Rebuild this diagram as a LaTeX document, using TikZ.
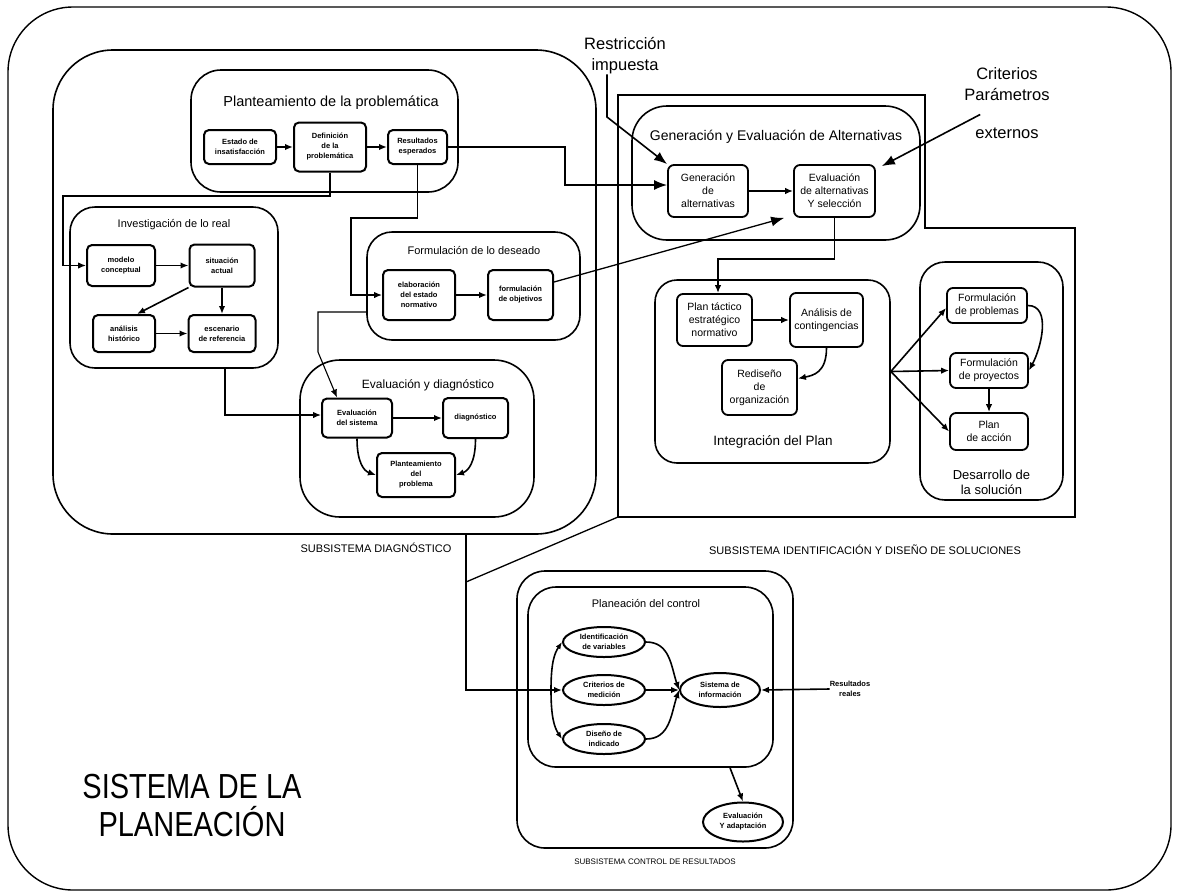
\documentclass[tikz,border=0pt]{standalone}
\usepackage{fontspec}
\setmainfont{Liberation Sans}
\usetikzlibrary{arrows.meta,shapes.geometric}
\begin{document}
\begin{tikzpicture}[x=1pt,y=-1pt,
  cont/.style={draw, line width=1.6pt, inner sep=0pt, rounded corners=#1},
  sbox/.style={draw, line width=2pt, rounded corners=5pt, align=center, inner sep=1pt,
               font=\fontsize{7.5}{10}\selectfont\bfseries},
  mbox/.style={draw, line width=1.8pt, rounded corners=6pt, align=center, inner sep=1pt,
               font=\fontsize{10.5}{13}\selectfont},
  nval/.style={draw, ellipse, line width=2pt, inner sep=0pt, align=center,
               font=\fontsize{7.5}{10}\selectfont\bfseries},
  ttl/.style={inner sep=0pt, align=center},
  lnk/.style={line width=1.6pt},
  arr/.style={lnk, -{Latex[length=8pt,width=6.5pt]}},
  bigarr/.style={lnk, -{Latex[length=13pt,width=10pt]}},
]
\useasboundingbox (0,0) rectangle (1177,895);
\fill[white] (0,0) rectangle (1177,895);

% ---------- whole system ----------
\node[cont=65pt, line width=1.4pt, minimum width=1163pt, minimum height=883pt] (sistema) at (589.5,448.5) {};
\node[ttl, font=\fontsize{29}{38}\selectfont] (sistemaT) at (192,806)
  {\scalebox{1}[1.2]{SISTEMA DE LA}\\\scalebox{1}[1.2]{PLANEACIÓN}};

% ---------- diagnostic subsystem ----------
\node[cont=60pt, minimum width=543pt, minimum height=484pt] (diag) at (324.5,292) {};
\node[ttl, font=\fontsize{11}{13}\selectfont] (diagT) at (376,548) {SUBSISTEMA DIAGNÓSTICO};

% problem statement
\node[cont=30pt, minimum width=267pt, minimum height=122pt] (plant) at (324.5,131) {};
\node[ttl, font=\fontsize{14.5}{17}\selectfont] (plantT) at (331,103) {Planteamiento de la problemática};
\node[sbox, minimum width=72pt, minimum height=34pt] (estado) at (240,147) {Estado de\\insatisfacción};
\node[sbox, minimum width=72pt, minimum height=49pt] (definicion) at (330,147) {Definición\\de la\\problemática};
\node[sbox, minimum width=59pt, minimum height=34pt] (resultados) at (417.5,147) {Resultados\\esperados};
\draw[arr] (estado.east) -- (definicion.west);
\draw[arr] (definicion.east) -- (resultados.west);

% research of the real situation
\node[cont=25pt, minimum width=208pt, minimum height=161pt] (inv) at (174,287.5) {};
\node[ttl, font=\fontsize{11}{13}\selectfont] (invT) at (174,225) {Investigación de lo real};
\node[sbox, minimum width=68pt, minimum height=41pt] (modelo) at (121,265.5) {modelo\\conceptual};
\node[sbox, minimum width=65pt, minimum height=42pt] (situacion) at (222,265.5) {situación\\actual};
\node[sbox, minimum width=62pt, minimum height=37pt] (analisis) at (124,333.5) {análisis\\histórico};
\node[sbox, minimum width=67pt, minimum height=37pt] (escenario) at (222,333.5) {escenario\\de referencia};
\draw[arr] (modelo.east) -- (situacion.west);
\draw[arr] (situacion.south west) -- ([xshift=13pt]analisis.north);
\draw[arr] (situacion.south) -- (escenario.north);
\draw[arr] (analisis.east) -- (escenario.west);

% desired state
\node[cont=25pt, minimum width=213pt, minimum height=108pt] (form) at (473.5,286) {};
\node[ttl, font=\fontsize{11}{13}\selectfont] (formT) at (474,250) {Formulación de lo deseado};
\node[sbox, minimum width=72pt, minimum height=50pt] (elaboracion) at (419,295) {elaboración\\del estado\\normativo};
\node[sbox, minimum width=65pt, minimum height=50pt] (objetivos) at (520.5,295) {formulación\\de objetivos};
\draw[arr] (elaboracion.east) -- (objetivos.west);

% evaluation and diagnosis
\node[cont=40pt, minimum width=234pt, minimum height=157pt] (evd) at (417,438.5) {};
\node[ttl, font=\fontsize{12}{14}\selectfont] (evdT) at (428,385) {Evaluación y diagnóstico};
\node[sbox, minimum width=70pt, minimum height=39pt] (evalsis) at (357,418) {Evaluación\\del sistema};
\node[sbox, minimum width=65pt, minimum height=40pt] (diagnostico) at (475.5,418) {diagnóstico};
\node[sbox, minimum width=78pt, minimum height=44pt] (planteam) at (416,475) {Planteamiento\\del\\problema};
\draw[arr] (evalsis.east) -- (diagnostico.west);
\draw[arr] (evalsis.south) .. controls +(0,24) and +(-12,-4) .. (planteam.west);
\draw[arr] (diagnostico.south) .. controls +(0,24) and +(12,-4) .. (planteam.east);

% links inside the diagnostic subsystem
\draw[arr, line width=1.3pt] (definicion.south) -- (330,196) -- (63,196) |- (modelo.west);
\draw[arr, line width=1.3pt] (resultados.south) -- (417.5,218) -- (351,218) |- (elaboracion.west);
\draw[arr, line width=1.3pt] ([xshift=51pt]inv.south) |- ([yshift=3pt]evalsis.west);
\draw[arr, line width=1.1pt] ([yshift=-26pt]form.west) -- (318,312) -- (318,352) -- ([xshift=-20pt]evalsis.north);

% ---------- identification and design subsystem ----------
\coordinate (idA) at (618,95);
\coordinate (idB) at (925,95);
\coordinate (idC) at (925,228);
\coordinate (idD) at (1075,228);
\coordinate (idE) at (1075,517);
\coordinate (idcorner) at (618,517);
\draw[line width=1.8pt] (idA) -- (idB) -- (idC) -- (idD) -- (idE) -- (idcorner) -- cycle;
\node[ttl, font=\fontsize{11}{13}\selectfont] (idT) at (865,550) {SUBSISTEMA IDENTIFICACIÓN Y DISEÑO DE SOLUCIONES};

% generation and evaluation of alternatives
\node[cont=35pt, minimum width=288pt, minimum height=134pt] (gen) at (776,173) {};
\node[ttl, font=\fontsize{14}{16}\selectfont] (genT) at (776,137) {Generación y Evaluación de Alternativas};
\node[mbox, minimum width=80pt, minimum height=52pt] (genalt) at (708,191) {Generación\\de\\alternativas};
\node[mbox, minimum width=81pt, minimum height=52pt] (evalalt) at (834.5,191) {Evaluación\\de alternativas\\Y selección};
\draw[arr] (genalt.east) -- (evalalt.west);

\node[ttl, font=\fontsize{16.5}{21}\selectfont] (restr) at (625,56) {Restricción\\impuesta};
\node[ttl, font=\fontsize{16.5}{21}\selectfont] (crit) at (1007,103.5) {Criterios\\Parámetros\\[17pt]externos};
\draw[bigarr] ([xshift=-18pt]restr.south) -- (607,117) -- (genalt.north west);
\draw[bigarr] ([xshift=16pt,yshift=-11pt]crit.west) -- ([xshift=6pt,yshift=-2pt]evalalt.north east);

% plan integration
\node[cont=22pt, minimum width=235pt, minimum height=183pt] (integ) at (772.5,371.5) {};
\node[ttl, font=\fontsize{13.5}{16}\selectfont] (integT) at (773,442) {Integración del Plan};
\node[mbox, minimum width=75pt, minimum height=52pt] (plantac) at (714.5,320) {Plan táctico\\estratégico\\normativo};
\node[mbox, minimum width=73pt, minimum height=54pt] (contingencias) at (826.5,320) {Análisis de\\contingencias};
\node[mbox, minimum width=75pt, minimum height=55pt] (rediseno) at (759.5,387.5) {Rediseño\\de\\organización};
\draw[arr] (plantac.east) -- (contingencias.west);
\draw[arr] (contingencias.south) .. controls +(0,25) and +(15,-3) .. ([yshift=9pt]rediseno.east);

% development of the solution
\node[cont=25pt, minimum width=143pt, minimum height=238pt] (desa) at (991.5,381) {};
\node[ttl, font=\fontsize{13}{15}\selectfont] (desaT) at (991.5,482) {Desarrollo de\\la solución};
\node[mbox, minimum width=80pt, minimum height=35pt] (formprob) at (987,305.5) {Formulación\\de problemas};
\node[mbox, minimum width=78pt, minimum height=35pt] (formproy) at (989,370.5) {Formulación\\de proyectos};
\node[mbox, minimum width=78pt, minimum height=37pt] (planaccion) at (989,431.5) {Plan\\de acción};
\draw[arr] (formprob.east) .. controls +(24,0) and +(12,-22) .. (formproy.east);
\draw[arr] (formproy.south) -- (planaccion.north);

% links inside the identification subsystem
\draw[bigarr] (resultados.east) -- (565,147) |- ([yshift=6pt]genalt.west);
\draw[bigarr, line width=1.3pt] ([yshift=13pt]objetivos.east) -- ([xshift=-9pt]evalalt.south west);
\draw[arr] (evalalt.south) -- ++(0,41) -| ([xshift=3.5pt]plantac.north);
\draw[arr] (integ.east) -- ([yshift=-2.5pt]formprob.west);
\draw[arr] (integ.east) -- (formproy.west);
\draw[arr] (integ.east) -- (planaccion.west);

% ---------- results control subsystem ----------
\node[cont=28pt, minimum width=276pt, minimum height=277pt] (ctrl) at (655,709.5) {};
\node[ttl, font=\fontsize{8}{10}\selectfont] (ctrlT) at (655,862) {SUBSISTEMA CONTROL DE RESULTADOS};
\node[cont=28pt, minimum width=245pt, minimum height=180pt] (ctrlin) at (650.5,677) {};
\node[ttl, font=\fontsize{11}{13}\selectfont] (ctrlinT) at (646,603) {Planeación del control};
\node[nval, minimum width=82pt, minimum height=30pt] (ident) at (604,642) {Identificación\\de variables};
\node[nval, minimum width=82pt, minimum height=30pt] (critmed) at (604,690) {Criterios de\\medición};
\node[nval, minimum width=82pt, minimum height=30pt] (diseno) at (604,739) {Diseño de\\indicado};
\node[nval, minimum width=80pt, minimum height=34pt] (sisinfo) at (720,690) {Sistema de\\información};
\node[nval, minimum width=80pt, minimum height=39pt] (evaladapt) at (743,822) {Evaluación\\Y adaptación};
\node[ttl, font=\fontsize{7.5}{10}\selectfont\bfseries] (reales) at (850,689) {Resultados\\reales};

\coordinate (brk) at (551,690);
\draw[lnk, {Latex[length=7pt,width=5.5pt]}-{Latex[length=7pt,width=5.5pt]}]
  (ident.west) .. controls +(-8,12) and +(0,-26) .. (brk) .. controls +(0,26) and +(-8,-12) .. (diseno.west);
\draw[arr] (ident.east) .. controls +(24,0) and +(-8,-24) .. (sisinfo.west);
\draw[arr] (critmed.east) -- (sisinfo.west);
\draw[arr] (diseno.east) .. controls +(24,0) and +(-8,24) .. (sisinfo.west);
\draw[arr] (reales.west) -- (sisinfo.east);
\draw[arr] ([xshift=79.5pt]ctrlin.south) -- (evaladapt.north);

% links between subsystems
\draw[arr] ([xshift=141.5pt]diag.south) |- (critmed.west);
\coordinate (joint) at (466,582);
\draw[lnk, line width=1.3pt] (idcorner) -- (joint);

\end{tikzpicture}
\end{document}
